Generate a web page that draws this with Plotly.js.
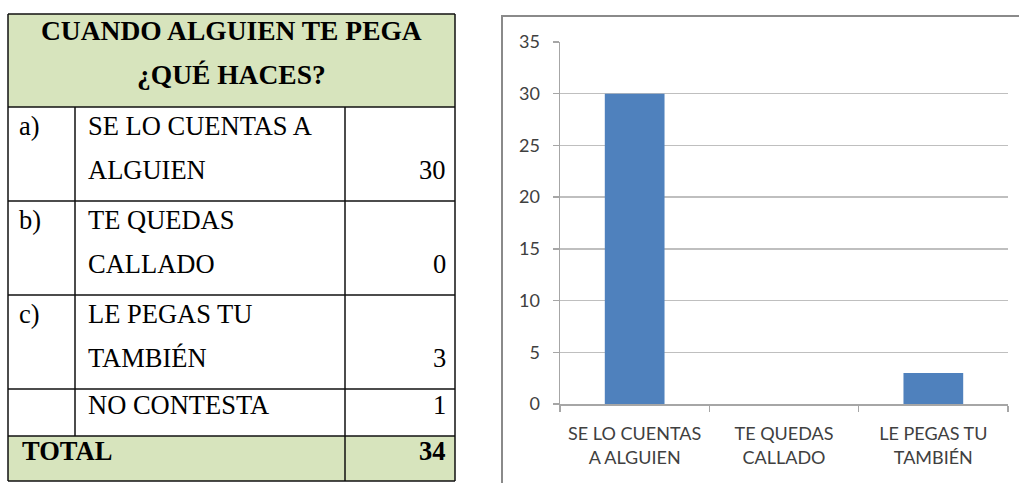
<!DOCTYPE html>
<html>
<head>
<meta charset="utf-8">
<script src="https://cdn.plot.ly/plotly-3.0.1.min.js"></script>
<style>html,body{margin:0;padding:0;background:#fff;}#chart{width:1019px;height:483px;}</style>
</head>
<body>
<div id="chart"></div>
<script>
// ---- data ----
var tableTitle = ['CUANDO ALGUIEN TE PEGA', '¿QUÉ HACES?'];
var tableLetters = ['a)', 'b)', 'c)', ''];
var tableLabels = [['SE LO CUENTAS A', 'ALGUIEN'], ['TE QUEDAS', 'CALLADO'], ['LE PEGAS TU', 'TAMBIÉN'], ['NO CONTESTA']];
var tableValues = [30, 0, 3, 1];
var totalLabel = 'TOTAL';
var totalValue = 34;

var chartCategories = ['SE LO CUENTAS<br>A ALGUIEN', 'TE QUEDAS<br>CALLADO', 'LE PEGAS TU<br>TAMBIÉN'];
var chartValues = [30, 0, 3];

// ---- layout helpers (pixel -> paper) ----
var W = 1019, H = 483;
function px(x) { return x / W; }
function py(y) { return 1 - y / H; }

var serif = 'Liberation Serif';
var sans = 'Lato';

var shapes = [];
var annotations = [];

// table geometry
var tL = 8, tR = 455, c1 = 75, c2 = 345;
var tTop = 14, headBottom = 107;
var rowTops = [107, 201, 295, 389];
var rowBottoms = [201, 295, 389, 436];
var totBottom = 481;

// green fills
shapes.push({type: 'rect', xref: 'paper', yref: 'paper', x0: px(tL), x1: px(tR), y0: py(headBottom), y1: py(tTop), fillcolor: '#d7e4bd', line: {width: 0}, layer: 'below'});
shapes.push({type: 'rect', xref: 'paper', yref: 'paper', x0: px(tL), x1: px(tR), y0: py(totBottom), y1: py(rowBottoms[3]), fillcolor: '#d7e4bd', line: {width: 0}, layer: 'below'});

function hline(x0, x1, y) {
  shapes.push({type: 'line', xref: 'paper', yref: 'paper', x0: px(x0), x1: px(x1), y0: py(y), y1: py(y), line: {color: '#111', width: 1.5}});
}
function vline(x, y0, y1) {
  shapes.push({type: 'line', xref: 'paper', yref: 'paper', x0: px(x), x1: px(x), y0: py(y0), y1: py(y1), line: {color: '#111', width: 1.5}});
}
hline(tL, tR, tTop);
hline(tL, tR, headBottom);
rowBottoms.forEach(function (y) { hline(tL, tR, y); });
hline(tL, tR, totBottom);
vline(tL, tTop, totBottom);
vline(tR, tTop, totBottom);
vline(c1, headBottom, rowBottoms[3]);
vline(c2, headBottom, totBottom);

function ann(text, x, y, xanchor, size, bold, font, color) {
  annotations.push({
    xref: 'paper', yref: 'paper', x: px(x), y: py(y), xanchor: xanchor, yanchor: 'middle',
    text: bold ? '<b>' + text + '</b>' : text, showarrow: false,
    font: {family: font || serif, size: size, color: color || '#000'}
  });
}

// header
ann(tableTitle[0], (tL + tR) / 2, 30, 'center', 27.5, true);
ann(tableTitle[1], (tL + tR) / 2, 75, 'center', 27.5, true);

// rows
tableLabels.forEach(function (lines, i) {
  var top = rowTops[i];
  var first = lines.length > 1 ? 19 : 16;
  if (tableLetters[i]) ann(tableLetters[i], 17, top + first, 'left', 26.5, false);
  lines.forEach(function (t, j) {
    ann(t, 86, top + first + j * 44, 'left', 26.5, false);
  });
  ann(String(tableValues[i]), 448, top + first + (lines.length - 1) * 44, 'right', 26.5, false);
});
ann(totalLabel, 20, 451, 'left', 26.5, true);
ann(String(totalValue), 448, 451, 'right', 26.5, true);

// chart frame
shapes.push({type: 'rect', xref: 'paper', yref: 'paper', x0: px(502), x1: px(1040), y0: py(500), y1: py(16), line: {color: '#8a8a8a', width: 2}, fillcolor: 'rgba(0,0,0,0)'});

var trace = {
  type: 'bar',
  x: chartCategories,
  y: chartValues,
  marker: {color: '#4f81bd', line: {width: 0}},
  hoverinfo: 'x+y'
};

var layout = {
  width: W, height: H,
  margin: {l: 0, r: 0, t: 0, b: 0},
  paper_bgcolor: '#fff', plot_bgcolor: '#fff',
  showlegend: false,
  bargap: 0.6,
  xaxis: {
    domain: [px(560), px(1008)],
    anchor: 'y',
    type: 'category',
    tickson: 'boundaries',
    ticks: 'outside', ticklen: 6, tickcolor: '#a6a6a6', tickwidth: 1.5,
    showgrid: false, zeroline: false,
    showline: true, linecolor: '#a6a6a6', linewidth: 1.5,
    tickfont: {family: sans, size: 18, color: '#404040'},
    ticklabelstandoff: 13,
    fixedrange: true
  },
  yaxis: {
    domain: [py(404), py(42)],
    anchor: 'x',
    range: [0, 35],
    dtick: 5,
    ticks: 'outside', ticklen: 6, tickcolor: '#a6a6a6', tickwidth: 1.5,
    showgrid: true, gridcolor: '#bfbfbf', gridwidth: 1.5,
    zeroline: false,
    showline: true, linecolor: '#a6a6a6', linewidth: 1.5,
    tickfont: {family: sans, size: 18, color: '#404040'},
    ticklabelstandoff: 9,
    fixedrange: true
  },
  shapes: shapes,
  annotations: annotations
};

Plotly.newPlot('chart', [trace], layout, {displayModeBar: false, staticPlot: true});
</script>
</body>
</html>
